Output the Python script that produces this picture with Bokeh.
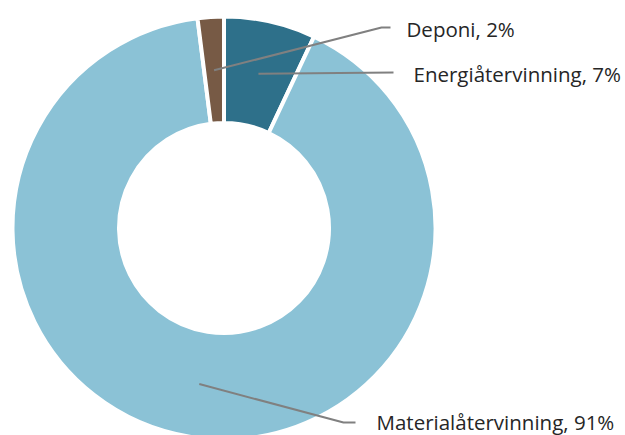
import numpy as np
from bokeh.plotting import figure
from bokeh.models import Range1d, ColumnDataSource
from bokeh.core.properties import value
from bokeh.embed import file_html
from bokeh.resources import INLINE

categories = ["Energiåtervinning", "Materialåtervinning", "Deponi"]
shares = [7, 91, 2]
colors = ["#2E708A", "#8BC2D6", "#775A45"]

W, H = 625, 435
p = figure(width=W, height=H, output_backend="svg", toolbar_location=None,
           x_range=Range1d(0, W), y_range=Range1d(0, H), min_border=0)
p.axis.visible = False
p.grid.visible = False
p.outline_line_color = None
p.background_fill_color = "white"

cx, cy = 223.5, 207.5
vals = np.array(shares, dtype=float)
frac = vals / vals.sum()
cum = np.concatenate([[0], np.cumsum(frac)])
start = np.pi / 2 - 2 * np.pi * cum[:-1]
end = np.pi / 2 - 2 * np.pi * cum[1:]
mid = (start + end) / 2

src = ColumnDataSource(dict(x=[cx] * 3, y=[cy] * 3, start=start, end=end, color=colors))
p.annular_wedge(x="x", y="y", inner_radius=105, outer_radius=211.5,
                inner_radius_units="screen", outer_radius_units="screen",
                start_angle="start", end_angle="end", direction="clock",
                fill_color="color", line_color="white", line_width=4, source=src)

# leader lines: start at radius 158 along mid-angle, end at label anchor
r0 = 158
sx = cx + r0 * np.cos(mid)
sy = cy + r0 * np.sin(mid)
# label layout (bend, end, text position) per category: Energi, Material, Deponi
bend = [(393, 363), (343, 13), (381, 408)]
lend = [(393, 363), (355, 13), (390, 408)]
text_pos = [(413, 362), (376, 14), (406, 407)]
for i in range(3):
    xs = [sx[i], bend[i][0], lend[i][0]]
    ys = [sy[i], bend[i][1], lend[i][1]]
    p.line(xs, ys, line_color="#808080", line_width=2)

labels = [f"{c}, {v}%" for c, v in zip(categories, shares)]
p.text(x=[t[0] for t in text_pos], y=[t[1] for t in text_pos], text=labels,
       text_font=value("Open Sans"), text_font_size="20.5px", text_color="#262626",
       text_baseline="middle", text_align="left")

open("out.html", "w").write(file_html(p, INLINE))
